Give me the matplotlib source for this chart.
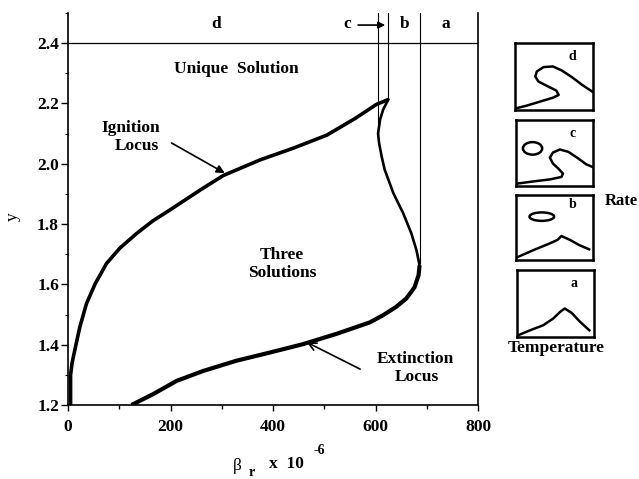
#!/usr/bin/env python3
"""Ignition / extinction loci in the (beta_r, y) plane with rate sketches."""

import matplotlib

matplotlib.use("Agg")
import matplotlib.pyplot as plt
from matplotlib.patches import Ellipse
from matplotlib.ticker import MultipleLocator

# ignition locus, from the bottom up to the cusp
ign_x = [5, 5, 8, 13, 23, 36, 53, 75, 101, 134, 165, 199, 258, 303, 375, 440,
         505, 560, 602, 625]
ign_y = [1.200, 1.300, 1.340, 1.380, 1.458, 1.536, 1.602, 1.669, 1.720, 1.769,
         1.810, 1.847, 1.913, 1.961, 2.013, 2.052, 2.095, 2.150, 2.197, 2.213]

# middle branch, cusp down to the nose
mid_x = [625, 615, 609, 605, 607, 612, 618, 635, 654, 670, 680, 686]
mid_y = [2.213, 2.180, 2.147, 2.100, 2.069, 2.024, 1.980, 1.902, 1.836, 1.769,
         1.713, 1.663]

# extinction locus, nose down to the bottom
ext_x = [686, 684, 676, 660, 640, 615, 589, 524, 459, 394, 329, 264, 212, 166,
         124]
ext_y = [1.663, 1.630, 1.590, 1.553, 1.525, 1.498, 1.474, 1.436, 1.402, 1.374,
         1.347, 1.313, 1.280, 1.236, 1.200]

# region boundaries (beta_r, lower end of line)
bounds = {"c": (604, 2.10), "b": (625, 2.213), "a": (686, 1.67)}
region_labels = {"d": 290, "c": 544, "b": 657, "a": 738}

# rate vs temperature sketches (unit box coordinates)
sk_d = ([0.013, 0.15, 0.32, 0.49, 0.56, 0.53, 0.41, 0.30, 0.26, 0.28, 0.365,
         0.485, 0.60, 0.73, 0.86, 0.99],
        [0.025, 0.065, 0.125, 0.185, 0.225, 0.29, 0.36, 0.425, 0.50, 0.575,
         0.64, 0.65, 0.59, 0.49, 0.375, 0.275])
sk_c = ([0.013, 0.23, 0.44, 0.59, 0.61, 0.55, 0.48, 0.44, 0.48, 0.57, 0.68,
         0.81, 0.91, 0.99],
        [0.036, 0.07, 0.10, 0.137, 0.188, 0.264, 0.34, 0.43, 0.508, 0.553,
         0.518, 0.416, 0.33, 0.29])
sk_b = ([0.013, 0.23, 0.44, 0.54, 0.59, 0.70, 0.82, 0.95],
        [0.041, 0.154, 0.256, 0.31, 0.369, 0.31, 0.23, 0.164])
sk_a = ([0.013, 0.17, 0.34, 0.47, 0.56, 0.62, 0.71, 0.82, 0.94],
        [0.025, 0.10, 0.175, 0.275, 0.375, 0.425, 0.36, 0.225, 0.10])
# isolas: (cx, cy, width, height)
iso_c = (0.215, 0.57, 0.25, 0.19)
iso_b = (0.335, 0.667, 0.32, 0.13)

plt.rcParams["font.family"] = ["Liberation Serif", "DejaVu Serif"]
plt.rcParams["font.weight"] = "bold"
FS = 12.5

fig = plt.figure(figsize=(6.39, 4.79), dpi=100)
ax = fig.add_axes([68 / 639, 74 / 479, 410 / 639, 392 / 479])

ax.plot(ign_x, ign_y, color="black", lw=2.6, solid_capstyle="butt",
        solid_joinstyle="round")
ax.plot(mid_x, mid_y, color="black", lw=1.9, solid_joinstyle="round")
ax.plot(ext_x, ext_y, color="black", lw=3.0, solid_capstyle="butt",
        solid_joinstyle="round")

ax.plot([0, 800], [2.4, 2.4], color="black", lw=0.9)
for xb, ylow in bounds.values():
    ax.plot([xb, xb], [ylow, 2.5], color="black", lw=0.8)

ax.set_xlim(0, 800)
ax.set_ylim(1.2, 2.5)
ax.spines["top"].set_visible(False)
for s in ("left", "right", "bottom"):
    ax.spines[s].set_linewidth(1.2)
ax.xaxis.set_major_locator(MultipleLocator(200))
ax.xaxis.set_minor_locator(MultipleLocator(100))
ax.yaxis.set_major_locator(MultipleLocator(0.2))
ax.yaxis.set_minor_locator(MultipleLocator(0.1))
ax.set_yticks([1.2, 1.4, 1.6, 1.8, 2.0, 2.2, 2.4])
ax.set_yticklabels(["1.2", "1.4", "1.6", "1.8", "2.0", "2.2", "2.4"])
ax.tick_params(axis="x", which="major", length=4, width=1.0, pad=6,
               labelsize=FS)
ax.tick_params(axis="x", which="minor", length=3, width=1.0)
ax.tick_params(axis="y", which="major", length=5, width=1.0, pad=1.5,
               labelsize=FS)
ax.tick_params(axis="y", which="minor", length=2, width=0.8)

for lab, xl in region_labels.items():
    ax.text(xl, 2.462, lab, ha="center", va="center", fontsize=FS)
ax.annotate("", xy=(619, 2.46), xytext=(566, 2.46),
            arrowprops=dict(arrowstyle="-|>", color="black", lw=1.2,
                            mutation_scale=10, shrinkA=0, shrinkB=0))

ax.text(328, 2.313, "Unique  Solution", ha="center", va="center", fontsize=FS)
ax.text(417, 1.697, "Three", ha="center", va="center", fontsize=FS)
ax.text(419, 1.639, "Solutions", ha="center", va="center", fontsize=FS)
ax.text(123, 2.12, "Ignition", ha="center", va="center", fontsize=FS)
ax.text(134, 2.058, "Locus", ha="center", va="center", fontsize=FS)
ax.text(677, 1.352, "Extinction", ha="center", va="center", fontsize=FS)
ax.text(680, 1.293, "Locus", ha="center", va="center", fontsize=FS)

ax.annotate("", xy=(306, 1.969), xytext=(202, 2.069),
            arrowprops=dict(arrowstyle="-|>", color="black", lw=1.2,
                            mutation_scale=12, shrinkA=0, shrinkB=0))
ax.annotate("", xy=(466, 1.408), xytext=(570, 1.319),
            arrowprops=dict(arrowstyle="->", color="black", lw=1.2,
                            mutation_scale=14, shrinkA=0, shrinkB=0))

# axis titles
fig.text(13 / 639, 1 - 217 / 479, "y", rotation=90, ha="center", va="center",
         fontsize=FS, fontweight="normal")
fig.text(237 / 639, 1 - 466 / 479, "β", ha="center", va="center", fontsize=FS,
         fontweight="normal")
fig.text(252 / 639, 1 - 472 / 479, "r", ha="center", va="center", fontsize=10)
fig.text(286 / 639, 1 - 464 / 479, "x  10", ha="center", va="center",
         fontsize=FS)
fig.text(319 / 639, 1 - 451 / 479, "-6", ha="center", va="center", fontsize=10)

# sketches of rate against temperature
boxes = [
    ("d", sk_d, None, [515, 43, 78, 67], 0.80),
    ("c", sk_c, iso_c, [516, 120, 77, 66], 0.80),
    ("b", sk_b, iso_b, [516, 195, 77, 65], 0.86),
    ("a", sk_a, None, [517, 270, 77, 67], 0.80),
]
for lab, (sx, sy), iso, (px, py, pw, ph), ly in boxes:
    ins = fig.add_axes([px / 639, 1 - (py + ph) / 479, pw / 639, ph / 479])
    ins.plot(sx, sy, color="black", lw=1.8, solid_joinstyle="round")
    if iso is not None:
        cx, cy, w, h = iso
        ins.add_patch(Ellipse((cx, cy), w, h, fill=False, lw=1.8,
                              edgecolor="black"))
    ins.text(0.74, ly, lab, ha="center", va="center", fontsize=10)
    ins.set_xlim(0, 1)
    ins.set_ylim(0, 1)
    ins.set_xticks([])
    ins.set_yticks([])
    for s in ins.spines.values():
        s.set_linewidth(1.8)

fig.text(621 / 639, 1 - 201 / 479, "Rate", ha="center", va="center",
         fontsize=12)
fig.text(556 / 639, 1 - 348 / 479, "Temperature", ha="center", va="center",
         fontsize=FS)

fig.savefig("out.png", dpi=100)
